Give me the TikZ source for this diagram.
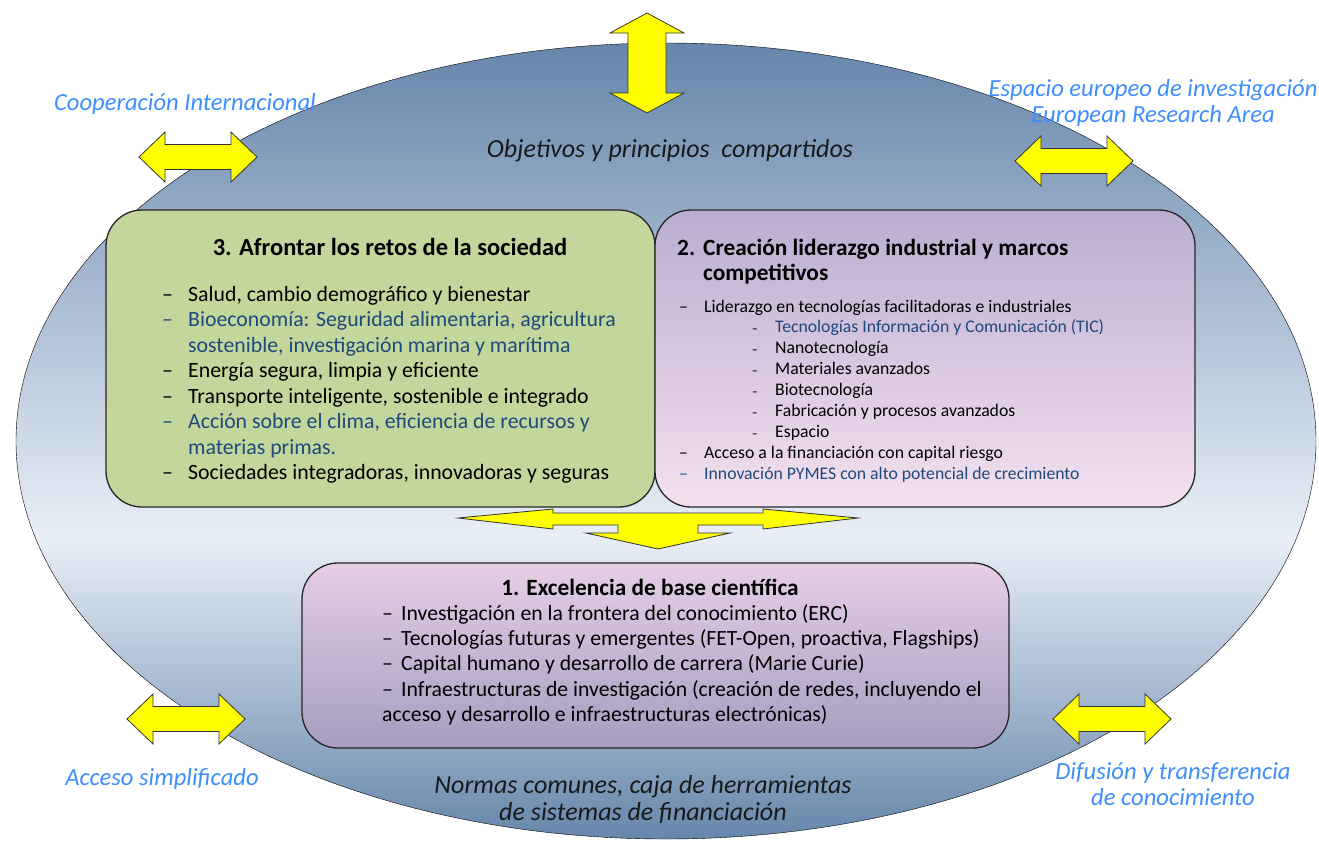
\documentclass[tikz,border=0pt]{standalone}
\usepackage{fontspec}
\setmainfont{Carlito}
\usetikzlibrary{scopes}

\definecolor{ovalend}{HTML}{6686AB}
\definecolor{ovallight}{HTML}{E9EFF7}
\pgfdeclareverticalshading{ovalshade}{100bp}{color(0bp)=(ovalend); color(25bp)=(ovalend); color(44bp)=(ovallight); color(75bp)=(ovalend); color(100bp)=(ovalend)}
\definecolor{retosgreen}{HTML}{C3D69B}
\definecolor{lidertop}{HTML}{BBADD0}
\definecolor{liderbottom}{HTML}{F4E1EF}
\definecolor{exctop}{HTML}{E6CFE6}
\definecolor{excbottom}{HTML}{A59CBF}
\definecolor{itemblue}{HTML}{1F497D}
\definecolor{labelblue}{HTML}{3D8EFF}
\definecolor{arrowyellow}{HTML}{FFFF00}

\begin{document}
\begin{tikzpicture}[
    x=1pt, y=-1pt,
    oval/.style={draw=black, thin, shading=ovalshade},
    box/.style={draw=black!85, line width=1.3pt, rounded corners=36pt},
    yarrow/.style={draw=black!80, fill=arrowyellow, line width=0.8pt, line join=miter},
    lst/.style={anchor=base west, inner sep=0pt},
    head/.style={anchor=base, inner sep=0pt, font=\fontsize{23.3}{26}\selectfont\bfseries},
    outer/.style={anchor=base, inner sep=0pt, text=labelblue, font=\fontsize{24.6}{26}\selectfont\itshape},
    inner/.style={anchor=base, inner sep=0pt, text=black!90, font=\fontsize{26}{27}\selectfont\itshape},
]
\useasboundingbox (0,0) rectangle (1319,849);

% oval
\path[oval] (666,441) ellipse [x radius=650pt, y radius=398pt];

% yellow arrows
{[yarrow]
    \filldraw (647,13) -- (684,33) -- (666,33) -- (666,93) -- (684,93) -- (647,113)
        -- (610,93) -- (628,93) -- (628,33) -- (610,33) -- cycle;
    \foreach \x/\y in {139/157, 1015/161, 127/719, 1053/719}
        \filldraw (\x,\y) -- ++(26,-25) -- ++(0,12.5) -- ++(66,0) -- ++(0,-12.5)
            -- ++(26,25) -- ++(-26,25) -- ++(0,-12.5) -- ++(-66,0) -- ++(0,12.5) -- cycle;
}

% boxes
\path[box, fill=retosgreen] (106,210) rectangle (655,507);
\path[box, top color=lidertop, bottom color=liderbottom] (655,210) rectangle (1195,507);
\path[box, top color=exctop, bottom color=excbottom] (302,563) rectangle (1009,748);

% arrow between the boxes
\filldraw[yarrow] (458,518) -- (553,509) -- (553,513) -- (763,513) -- (763,509) -- (858,518)
    -- (763,529) -- (763,525) -- (698,525) -- (698,533) -- (730,533) -- (658,549)
    -- (586,533) -- (618,533) -- (618,525) -- (553,525) -- (553,529) -- cycle;

% box 3
\node[head, font=\fontsize{24.5}{26}\selectfont\bfseries] (retoshead) at (390,255) {3. Afrontar los retos de la sociedad};
\node[lst, font=\fontsize{21.8}{25.5}\selectfont] (retoslist) at (162,301) {%
\begin{tabular}[t]{@{}l@{}l@{}}
\makebox[26pt][l]{–} & Salud, cambio demográfico y bienestar\\
\color{itemblue}– & \color{itemblue}Bioeconomía: Seguridad alimentaria, agricultura\\
 & \color{itemblue}sostenible, investigación marina y marítima\\
– & Energía segura, limpia y eficiente\\
– & Transporte inteligente, sostenible e integrado\\
\color{itemblue}– & \color{itemblue}Acción sobre el clima, eficiencia de recursos y\\
 & \color{itemblue}materias primas.\\
– & Sociedades integradoras, innovadoras y seguras
\end{tabular}};

% box 2
\node[lst, font=\fontsize{23.3}{25.5}\selectfont\bfseries] (liderhead) at (677,255) {%
\begin{tabular}[t]{@{}l@{}l@{}}
\makebox[26pt][l]{2.} & Creación liderazgo industrial y marcos\\
 & competitivos
\end{tabular}};
\node[lst, font=\fontsize{17.7}{20.9}\selectfont] (liderlist) at (679,312) {%
\begin{tabular}[t]{@{}l@{}l@{}}
\makebox[25pt][l]{–} & Liderazgo en tecnologías facilitadoras e industriales\\
 & \hspace{48pt}\makebox[23pt][l]{\fontsize{11}{11}\selectfont\bfseries –}\color{itemblue}Tecnologías Información y Comunicación (TIC)\\
 & \hspace{48pt}\makebox[23pt][l]{\fontsize{11}{11}\selectfont\bfseries –}Nanotecnología\\
 & \hspace{48pt}\makebox[23pt][l]{\fontsize{11}{11}\selectfont\bfseries –}Materiales avanzados\\
 & \hspace{48pt}\makebox[23pt][l]{\fontsize{11}{11}\selectfont\bfseries –}Biotecnología\\
 & \hspace{48pt}\makebox[23pt][l]{\fontsize{11}{11}\selectfont\bfseries –}Fabricación y procesos avanzados\\
 & \hspace{48pt}\makebox[23pt][l]{\fontsize{11}{11}\selectfont\bfseries –}Espacio\\
– & Acceso a la financiación con capital riesgo\\
\color{itemblue}– & \color{itemblue}Innovación PYMES con alto potencial de crecimiento
\end{tabular}};

% box 1
\node[head] (exchead) at (650,595) {1. Excelencia de base científica};
\node[lst, font=\fontsize{21.7}{25.2}\selectfont] (exclist) at (382,620.5) {%
\begin{tabular}[t]{@{}l@{}l@{}}
\makebox[19pt][l]{–} & Investigación en la frontera del conocimiento (ERC)\\
– & Tecnologías futuras y emergentes (FET-Open, proactiva, Flagships)\\
– & Capital humano y desarrollo de carrera (Marie Curie)\\
– & Infraestructuras de investigación (creación de redes, incluyendo el\\
\multicolumn{2}{@{}l@{}}{acceso y desarrollo e infraestructuras electrónicas)}
\end{tabular}};

% texts in the oval
\node[inner] (objetivos) at (670,157.5) {Objetivos y principios~ compartidos};
\node[inner] (normas) at (643,793) {%
\begin{tabular}[t]{@{}c@{}}
Normas comunes, caja de herramientas\\
de sistemas de financiación
\end{tabular}};

% texts outside
\node[outer] (cooperacion) at (185,110) {Cooperación Internacional};
\node[outer] (espacio) at (1153,96) {%
\begin{tabular}[t]{@{}c@{}}
Espacio europeo de investigación\\
European Research Area
\end{tabular}};
\node[outer] (acceso) at (162,785) {Acceso simplificado};
\node[outer] (difusion) at (1173,779) {%
\begin{tabular}[t]{@{}c@{}}
Difusión y transferencia\\
de conocimiento
\end{tabular}};
\end{tikzpicture}
\end{document}
